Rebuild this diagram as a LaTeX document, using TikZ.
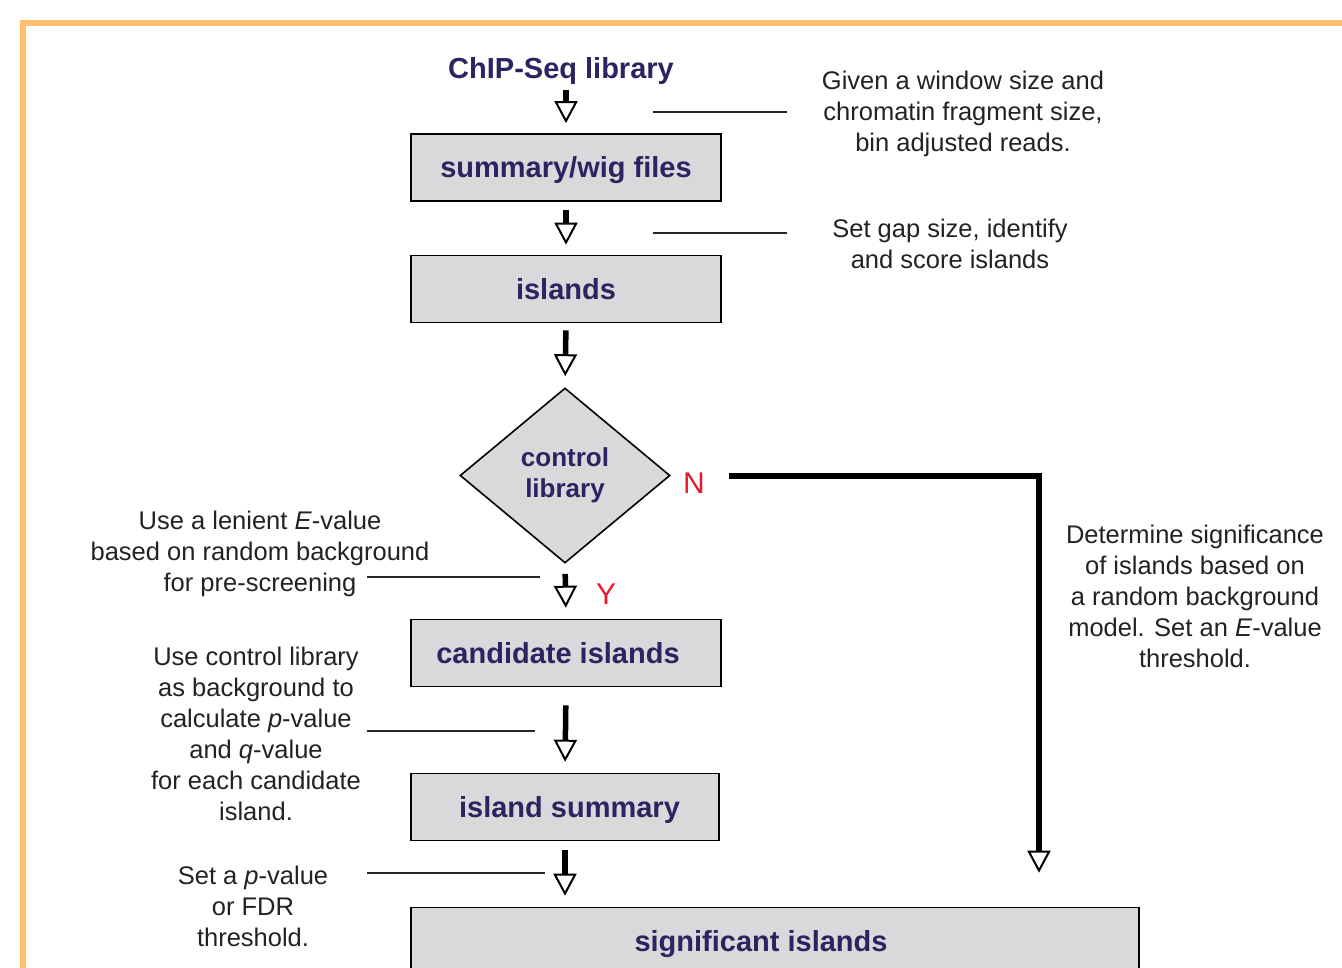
\documentclass[tikz,border=0pt]{standalone}
\usepackage{fontspec}
\setmainfont{Liberation Sans}
\usetikzlibrary{arrows.meta,shapes.geometric}
\definecolor{frameorange}{HTML}{FFC06E}
\definecolor{navy}{HTML}{2A2560}
\definecolor{boxgray}{HTML}{DAD8DA}
\definecolor{notegray}{HTML}{222222}
\definecolor{ynred}{HTML}{E8192C}
\tikzset{
  box/.style={draw=black, line width=1.6pt, fill=boxgray, minimum width=310pt, minimum height=67pt, inner sep=0pt,
    text height=21pt, text depth=0pt,
    text=navy, font=\bfseries\fontsize{29}{31}\selectfont},
  decision/.style={draw=black, line width=1.6pt, fill=boxgray, shape=diamond, minimum width=210pt, minimum height=175pt,
    inner sep=0pt, text=navy, align=center, font=\bfseries\fontsize{26}{31}\selectfont},
  note/.style={align=center, inner sep=0pt, text=notegray, font=\fontsize{25.5}{31}\selectfont},
  yn/.style={inner sep=0pt, text=ynred, font=\fontsize{30}{34}\selectfont},
  flowtip/.style={-{Triangle[open, length=22pt, width=23pt, line width=2pt]}},
  flow/.style={line width=5.5pt, flowtip},
  leader/.style={line width=1.8pt, draw=black!85}
}
\begin{document}
\begin{tikzpicture}[x=1pt,y=-1pt]
\useasboundingbox (0,0) rectangle (1342,968);
\clip (0,0) rectangle (1342,968);
% frame
\draw[frameorange, line width=6pt] (23,1000) -- (23,23) -- (1400,23);

% nodes
\node[inner sep=0pt, text=navy, font=\bfseries\fontsize{29}{31}\selectfont] (chip) at (561,71) {ChIP-Seq library};
\node[box] (sw) at (566,167.5) {summary/wig files};
\node[box] (isl) at (566,289) {islands};
\node[decision] (dia) at (565,475.5) {control\\library};
\node[box] (cand) at (566,653) {candidate islands\hspace*{16pt}};
\node[box, minimum width=308pt] (summ) at (565,807) {\hspace*{9pt}island summary};
\node[box, minimum width=728pt] (sig) at (775,941) {significant islands\hspace*{28pt}};
\node[yn] (N) at (694,483) {N};
\node[yn] (Y) at (606,594) {Y};

% notes
\node[note] (g1) at (963,114) {Given a window size and\\chromatin fragment size,\\bin adjusted reads.};
\node[note] (g2) at (950,244) {Set gap size, identify\\and score islands};
\node[note] (g3) at (260,554) {Use a lenient \textit{E}-value\\based on random background\\for pre-screening};
\node[note] (g4) at (256,734) {Use control library\\as background to\\calculate \textit{p}-value\\and \textit{q}-value\\for each candidate\\island.};
\node[note] (g5) at (253,906) {Set a \textit{p}-value\\or FDR\\threshold.};
\node[note] (g6) at (1195,596) {Determine significance\\of islands based on\\a random background\\model. Set an \textit{E}-value\\threshold.};

% flow arrows
\draw[flow, shorten <=5pt, shorten >=10pt] (chip.south -| sw.north) -- (sw.north);
\draw[flow, shorten <=8pt, shorten >=10pt] (sw.south) -- (isl.north);
\draw[flow, shorten <=7pt, shorten >=11pt] (isl.south) -- (dia.north);
\draw[flow, shorten <=10pt, shorten >=11pt] (dia.south) -- (cand.north);
\draw[flow, shorten <=18pt, shorten >=11pt] (cand.south) -- (summ.north);
\draw[flow, shorten <=9pt, shorten >=11pt] (summ.south) -- (summ.south |- sig.north);
\coordinate (nstart) at (729,476);
\coordinate (nturn) at (1039,476);
\draw[flow, shorten >=34pt] (nstart) -- (nturn) -- (nturn |- sig.north);

% leader lines
\coordinate (l1a) at (653,112); \coordinate (l1b) at (787,112);
\coordinate (l2a) at (653,233); \coordinate (l2b) at (787,233);
\coordinate (l3a) at (367,577); \coordinate (l3b) at (540,577);
\coordinate (l4a) at (367,731); \coordinate (l4b) at (535,731);
\coordinate (l5a) at (367,873); \coordinate (l5b) at (545,873);
\draw[leader] (l1a) -- (l1b);
\draw[leader] (l2a) -- (l2b);
\draw[leader] (l3a) -- (l3b);
\draw[leader] (l4a) -- (l4b);
\draw[leader] (l5a) -- (l5b);
\end{tikzpicture}
\end{document}
